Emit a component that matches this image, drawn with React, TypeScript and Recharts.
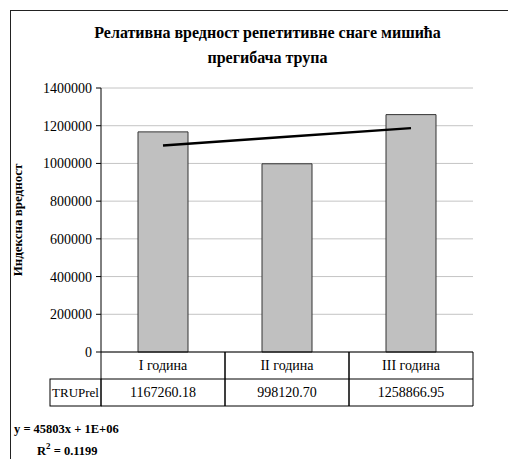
import React from 'react';
import { ComposedChart, Bar, Line, XAxis, YAxis, CartesianGrid } from 'recharts';

const categories = ['I година', 'II година', 'III година'];
const truPrel = [1167260.18, 998120.7, 1258866.95];
const trendValues = [1095612, 1141416, 1187219];
const yTicks = [0, 200000, 400000, 600000, 800000, 1000000, 1200000, 1400000];
const seriesName = 'TRUPrel';

const data = categories.map((c, i) => ({ name: c, value: truPrel[i], trend: trendValues[i] }));

const FONT = '"Liberation Serif", "Times New Roman", serif';

function TableTick(props: any) {
  const { x, y, payload, index } = props;
  const off = payload?.offset || 62;
  const rowH = 27;
  const left = x - off;
  const right = x + off;
  const val = truPrel[index];
  return (
    <g>
      <line x1={left} y1={y} x2={left} y2={y + rowH * 2} stroke="#000" />
      <line x1={right} y1={y} x2={right} y2={y + rowH * 2} stroke="#000" />
      <line x1={left} y1={y + rowH} x2={right} y2={y + rowH} stroke="#000" />
      <line x1={left} y1={y + rowH * 2} x2={right} y2={y + rowH * 2} stroke="#000" />
      <text x={x} y={y + rowH / 2} textAnchor="middle" dominantBaseline="central" fontFamily={FONT} fontSize={14} fill="#000">
        {payload.value}
      </text>
      <text x={x} y={y + rowH * 1.5} textAnchor="middle" dominantBaseline="central" fontFamily={FONT} fontSize={14} fill="#000">
        {val.toFixed(2)}
      </text>
      {index === 0 && (
        <g>
          <rect x={left - 51} y={y + rowH} width={51} height={rowH} fill="none" stroke="#000" />
          <text x={left - 25.5} y={y + rowH * 1.5} textAnchor="middle" dominantBaseline="central" fontFamily={FONT} fontSize={13} fill="#000">
            {seriesName}
          </text>
        </g>
      )}
    </g>
  );
}

export default function App() {
  return (
    <div style={{ position: 'absolute', left: 0, top: 0, width: 508, height: 459, overflow: 'hidden', background: '#fff', fontFamily: FONT }}>
      <div style={{ position: 'absolute', left: 10, top: 10, width: 520, height: 470, border: '1px solid #222' }} />
      <div style={{ position: 'absolute', left: 10, width: 515, top: 20, textAlign: 'center', fontWeight: 'bold', fontSize: 16, lineHeight: '25px', color: '#000' }}>
        Релативна вредност репетитивне снаге мишића
        <br />
        прегибача трупа
      </div>
      <div style={{ position: 'absolute', left: 18, top: 220, transform: 'translate(-50%, -50%) rotate(-90deg)', whiteSpace: 'nowrap', fontWeight: 'bold', fontSize: 13, color: '#000' }}>
        Индексна вредност
      </div>
      <ComposedChart width={508} height={459} data={data} margin={{ top: 88, right: 35, bottom: 77, left: 0 }} style={{ position: 'absolute', left: 0, top: 0 }}>
        <CartesianGrid vertical={false} stroke="#c4c4c4" />
        <XAxis dataKey="name" height={30} axisLine={{ stroke: '#000' }} tickLine={false} tickSize={0} tickMargin={0} tick={<TableTick />} interval={0} />
        <YAxis
          width={101}
          domain={[0, 1400000]}
          ticks={yTicks}
          interval={0}
          axisLine={{ stroke: '#000' }}
          tickLine={{ stroke: '#000' }}
          tickSize={5}
          tickMargin={4}
          tick={{ fontFamily: FONT, fontSize: 14, fill: '#000' }}
        />
        <YAxis yAxisId="right" orientation="right" width={0} tick={false} tickLine={false} axisLine={{ stroke: '#a0a0a0' }} />
        <Bar dataKey="value" fill="#c0c0c0" stroke="#333" strokeWidth={1} barSize={50} isAnimationActive={false} />
        <Line dataKey="trend" type="linear" stroke="#000" strokeWidth={2.5} dot={false} isAnimationActive={false} />
      </ComposedChart>
      <div style={{ position: 'absolute', left: 14, top: 421, fontWeight: 'bold', fontSize: 12.5, lineHeight: '16px', color: '#000' }}>
        y = 45803x + 1E+06
      </div>
      <div style={{ position: 'absolute', left: 37, top: 443, fontWeight: 'bold', fontSize: 12.5, lineHeight: '16px', color: '#000', whiteSpace: 'nowrap' }}>
        R<sup style={{ fontSize: 9, lineHeight: 0, verticalAlign: '6px' }}>2</sup> = 0.1199
      </div>
    </div>
  );
}
